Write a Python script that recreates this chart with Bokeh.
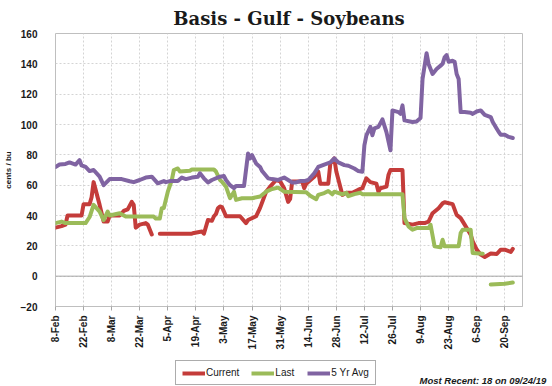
import numpy as np
import pandas as pd
from math import pi
from bokeh.plotting import figure
from bokeh.layouts import column
from bokeh.models import Range1d, FixedTicker, Span, Legend, LegendItem, Label
from bokeh.embed import file_html
from bokeh.resources import INLINE

NaN = float("nan")

tick_labels = ["8-Feb", "22-Feb", "8-Mar", "22-Mar", "5-Apr", "19-Apr", "3-May", "17-May",
               "31-May", "14-Jun", "28-Jun", "12-Jul", "26-Jul", "9-Aug", "23-Aug", "6-Sep", "20-Sep"]
y_ticks = [-20, 0, 20, 40, 60, 80, 100, 120, 140, 160]

current_dates = ["02-08", "02-11", "02-13", "02-14", "02-21", "02-22", "02-25", "02-26", "02-27", "03-02",
                 "03-04", "03-06", "03-07", "03-12", "03-14", "03-16", "03-18", "03-19", "03-20", "03-22",
                 "03-25", "03-26", "03-28", "03-30", "04-01", "04-17", "04-18", "04-22", "04-23", "04-25",
                 "04-27", "04-28", "04-29", "04-30", "05-01", "05-02", "05-03", "05-04", "05-11", "05-14",
                 "05-15", "05-19", "05-21", "05-24", "05-26", "05-29", "05-31", "06-02", "06-04", "06-05",
                 "06-06", "06-11", "06-12", "06-13", "06-17", "06-19", "06-20", "06-24", "06-25", "06-27",
                 "06-28", "07-01", "07-03", "07-06", "07-09", "07-11", "07-13", "07-15", "07-18", "07-19",
                 "07-20", "07-23", "07-24", "07-25", "07-31", "08-01", "08-05", "08-08", "08-11", "08-13",
                 "08-15", "08-18", "08-20", "08-21", "08-25", "08-27", "08-29", "08-31", "09-03", "09-04",
                 "09-06", "09-08", "09-10", "09-13", "09-16", "09-18", "09-20", "09-23", "09-24"]
current_vals = [32, 33, 34, 40, 40, 47.5, 47.5, 52, 62, 47,
                36, 36, 40, 40, 43, 44, 49, 47, 32, 34,
                35, 34, 27.5, NaN, 28, 28, 28.5, 29.5, 28, 37,
                36.5, 39.5, 41, 44.8, 46, 45.5, 42.6, 39.5, 39.5, 35,
                37, 39.5, 45, 55.7, 59, 63.4, 62.5, 58, 49, 51,
                62.5, 62.5, 58, 61, 65.6, 69, 61, 61, 74, 77.6,
                69, 53.6, 55, 55, 57, 58, 64.5, 62, 61, 55.7,
                58, 59, 66.7, 70, 70, 35, 34, 35, 35, 36,
                41.5, 44.8, 48, 48.7, 47.5, 40.4, 38.3, 34, 27.3, 23,
                17.5, 14.2, 12.7, 15, 14.6, 17.5, 17.5, 16, 18]

last_dates = ["02-08", "02-11", "02-13", "02-23", "02-25", "02-27", "03-02", "03-04", "03-06", "03-07",
              "03-12", "03-15", "03-29", "03-30", "04-01", "04-02", "04-03", "04-05", "04-07", "04-08",
              "04-10", "04-11", "04-16", "04-17", "04-28", "04-29", "05-01", "05-02", "05-04", "05-06",
              "05-08", "05-09", "05-12", "05-17", "05-21", "05-24", "05-27", "05-30", "06-02", "06-13",
              "06-15", "06-18", "06-19", "06-22", "06-24", "06-26", "06-27", "07-01", "07-03", "07-04",
              "07-07", "07-10", "07-11", "07-31", "08-01", "08-03", "08-05", "08-07", "08-13", "08-14",
              "08-16", "08-19", "08-20", "08-21", "08-28", "08-29", "08-30", "09-03", "09-04", "09-09",
              "09-11", "09-13", "09-20", "09-24"]
last_vals = [35, 36, 35, 35, 39, 47, 42.6, 37, 42.6, 40,
             41.5, 39.3, 39.3, 38, 38, 44.8, 45, 55.7, 63.4, 70,
             71, 69, 69.5, 70.3, 70.3, 69, 63.4, 62.3, 59, 51.4,
             55.7, 50.3, 51.4, 51.4, 52.5, 55.7, 57.5, 58.4, 55.7, 55.3,
             53, 50.7, 53.6, 54.8, 56.2, 54, 55.7, 54, 55, 52.7,
             54.1, 55, 54, 54, 38.3, 32.8, 30.6, 31.7, 31.7, 33.9,
             19.7, 19, 24, 19.7, 19.7, 28.4, 30.6, 30.6, 15.3, 14.8,
             NaN, -5.5, -5, -4.2]

avg_dates = ["02-08", "02-10", "02-13", "02-15", "02-18", "02-20", "02-21", "02-23", "02-25", "02-27",
             "03-02", "03-04", "03-07", "03-13", "03-17", "03-19", "03-22", "03-25", "03-28", "03-31",
             "04-03", "04-04", "04-06", "04-10", "04-12", "04-14", "04-17", "04-20", "04-21", "04-23",
             "04-25", "04-27", "05-01", "05-03", "05-04", "05-06", "05-08", "05-09", "05-13", "05-15",
             "05-16", "05-17", "05-19", "05-21", "05-22", "05-25", "05-27", "05-30", "05-31", "06-02",
             "06-04", "06-06", "06-08", "06-10", "06-12", "06-14", "06-17", "06-19", "06-22", "06-25",
             "06-27", "06-29", "07-02", "07-04", "07-07", "07-09", "07-11", "07-12", "07-13", "07-15",
             "07-16", "07-17", "07-19", "07-21", "07-23", "07-25", "07-26", "07-29", "07-30", "07-31",
             "08-01", "08-05", "08-07", "08-09", "08-10", "08-12", "08-13", "08-15", "08-17", "08-19",
             "08-20", "08-21", "08-22", "08-23", "08-25", "08-26", "08-27", "08-28", "08-29", "08-31",
             "09-03", "09-04", "09-06", "09-08", "09-10", "09-13", "09-14", "09-16", "09-17", "09-18",
             "09-20", "09-22", "09-24"]
avg_vals = [72, 73.6, 74, 75, 73.6, 76.5, 73, 72, 69.3, 70,
            65.6, 60, 64, 64, 62.6, 62, 63.4, 65, 65.6, 61.2,
            62.7, 62, 62.7, 62.7, 65, 64, 65, 65.6, 67.8, 64.5,
            61.8, 63.4, 65.6, 66, 63.4, 60, 58, 59.5, 59.5, 80.9,
            77.6, 79.8, 74.3, 72, 69.3, 64.5, 64, 63.4, 64, 65,
            63.4, 61.8, 61.8, 62.7, 62.7, 63.4, 67.8, 72, 73.6, 75,
            77.6, 75, 73.2, 72.8, 71, 69.3, 68.9, 86.3, 92.9, 98.4,
            92.9, 97.4, 98.4, 103.4, 95, 83, 109.3, 108.2, 107, 112.6,
            102.7, 101.6, 102, 104.3, 130, 147, 139.9, 133.3, 136.6, 138.8,
            140, 144.3, 145.8, 141.4, 142, 141.4, 133.3, 130, 108.2, 108.2,
            107.7, 107, 108.6, 109.3, 106.4, 104.9, 101.6, 97.2, 95, 93.3,
            93.3, 91.8, 91.1]

series_names = ["Current", "Last", "5 Yr Avg"]
series_colors = ["#C43C3A", "#9BBB59", "#8064A2"]
most_recent_text = "Most Recent: 18 on 09/24/19"
title_text = "Basis - Gulf - Soybeans"


def to_dt(md):
    return pd.to_datetime(["2019-" + d for d in md])


tick_dt = pd.to_datetime([t + "-2019" for t in tick_labels], format="%d-%b-%Y")
tick_ms = [int(t.value // 10**6) for t in tick_dt]
series = [(current_dates, current_vals), (last_dates, last_vals), (avg_dates, avg_vals)]

p = figure(width=552, height=352, x_axis_type="datetime", output_backend="svg",
           toolbar_location=None,
           x_range=Range1d(start=pd.Timestamp("2019-02-08"), end=pd.Timestamp("2019-09-28 20:00")),
           y_range=Range1d(start=-20, end=160),
           min_border_left=45, min_border_right=30, min_border_top=32, min_border_bottom=46)
p.frame_align = False

p.title.text = title_text
p.title.text_font = "DejaVu Serif"
p.title.text_font_size = "18px"
p.title.text_font_style = "bold"
p.title.text_color = "#1a1a1a"
p.title.align = "center"
p.title.standoff = 10
p.title.offset = -8

p.outline_line_color = "#BFBFBF"
p.background_fill_color = "white"
p.border_fill_color = "white"

p.xgrid.ticker = FixedTicker(ticks=tick_ms)
p.ygrid.ticker = FixedTicker(ticks=y_ticks)
for g in (p.xgrid, p.ygrid):
    g.grid_line_color = "#D4D4D4"
    g.grid_line_dash = "2 2"
    g.grid_line_width = 1

p.xaxis.ticker = FixedTicker(ticks=tick_ms)
p.xaxis.major_label_overrides = {ms: lab for ms, lab in zip(tick_ms, tick_labels)}
p.xaxis.major_label_orientation = pi / 2
p.xaxis.major_label_text_font = "Liberation Sans"
p.xaxis.major_label_text_font_size = "10px"
p.xaxis.major_label_text_font_style = "bold"
p.xaxis.major_label_text_color = "#1a1a1a"
p.xaxis.major_tick_out = 4
p.xaxis.major_tick_in = 0
p.xaxis.major_tick_line_color = "#A6A6A6"
p.xaxis.minor_tick_line_color = None
p.xaxis.axis_line_color = "#BFBFBF"
p.xaxis.major_label_standoff = 5

p.yaxis.ticker = FixedTicker(ticks=y_ticks)
p.yaxis.major_label_text_font = "Liberation Sans"
p.yaxis.major_label_text_font_size = "10px"
p.yaxis.major_label_text_font_style = "bold"
p.yaxis.major_label_text_color = "#1a1a1a"
p.yaxis.major_tick_line_color = None
p.yaxis.minor_tick_line_color = None
p.yaxis.axis_line_color = None
p.yaxis.major_label_standoff = 12
p.yaxis.axis_label = "cents / bu"
p.yaxis.axis_label_text_font = "Liberation Sans"
p.yaxis.axis_label_text_font_size = "8px"
p.yaxis.axis_label_text_font_style = "bold"
p.yaxis.axis_label_text_color = "#1a1a1a"
p.yaxis.axis_label_standoff = 5

p.add_layout(Span(location=0, dimension="width", line_color="#A6A6A6", line_width=1))

for (dates, vals), color in zip(series, series_colors):
    p.line(to_dt(dates), vals, line_color=color, line_width=4,
           line_join="round", line_cap="round")

# footer strip holding the legend and the "most recent" note
footer = figure(width=552, height=34, output_backend="svg", toolbar_location=None,
                x_range=Range1d(0, 1), y_range=Range1d(0, 1),
                x_axis_location=None, y_axis_location=None,
                min_border=0, min_border_left=0, min_border_right=0,
                min_border_top=0, min_border_bottom=0)
footer.frame_align = False
footer.grid.visible = False
footer.outline_line_color = None
footer.border_fill_color = "white"
footer.background_fill_color = "white"

items = []
for (dates, vals), name, color in zip(series, series_names, series_colors):
    # same series, drawn outside this strip's view; only used for the legend swatch
    r = footer.line(to_dt(dates), vals, line_color=color, line_width=4)
    items.append(LegendItem(label=name, renderers=[r]))

legend = Legend(items=items, orientation="horizontal", location=(175, 1),
                label_text_font="Liberation Sans", label_text_font_size="10px",
                label_text_color="#1a1a1a", glyph_width=23, glyph_height=10,
                label_standoff=1, label_height=11, spacing=12, padding=6, margin=0,
                border_line_color="#595959", border_line_width=1,
                background_fill_color="white", background_fill_alpha=1)
footer.add_layout(legend, "center")

footer.add_layout(Label(x=419, y=6, x_units="screen", y_units="screen", text=most_recent_text,
                        text_font="Liberation Sans", text_font_size="9.5px",
                        text_font_style="bold italic", text_color="#1a1a1a",
                        text_baseline="alphabetic"))

layout = column(p, footer, spacing=0)
open("out.html", "w").write(file_html(layout, INLINE))
